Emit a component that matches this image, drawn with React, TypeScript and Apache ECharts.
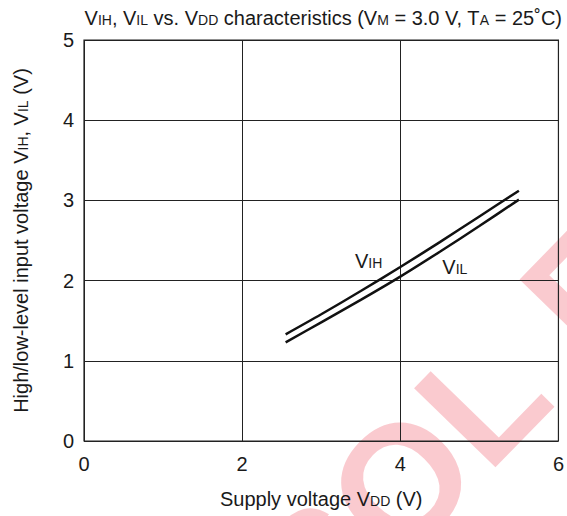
import React, { useEffect, useRef } from "react";
import * as echarts from "echarts";

const vihX = [2.55, 3.0, 3.5, 4.0, 4.5, 5.0, 5.5];
const vihY = [1.33, 1.58, 1.87, 2.17, 2.48, 2.8, 3.12];
const vilX = [2.55, 3.0, 3.5, 4.0, 4.5, 5.0, 5.5];
const vilY = [1.23, 1.48, 1.76, 2.05, 2.36, 2.68, 3.01];
const vihLabelPos = [3.6, 2.24];
const vilLabelPos = [4.69, 2.17];

// visible watermark letters and their offsets along the (rotated) baseline
const wmLetters = ["S", "O", "L", "E"];
const wmOffsets = [-209, -90, 26, 182];

const FONT = "'Liberation Sans', Arial, Helvetica, sans-serif";

export default function App() {
  const ref = useRef<HTMLDivElement>(null);
  useEffect(() => {
    if (!ref.current) return;
    const chart = echarts.init(ref.current, null, { renderer: "svg" });
    const sub = { fontSize: 14, fontFamily: FONT, fontWeight: "normal", color: "#1a1a1a", verticalAlign: "bottom", padding: [0, 0, 1, 0] };
    const main = { fontSize: 20, fontFamily: FONT, fontWeight: "normal", color: "#1a1a1a", verticalAlign: "bottom" };
    const label = (name: string, coord: number[]) => ({
      coord,
      symbolSize: 0,
      label: {
        show: true,
        position: "inside",
        formatter: `{m|V}{s|${name}}`,
        rich: { m: { ...main }, s: { ...sub } },
      },
    });
    const theta = 0.8;
    const ux = Math.cos(theta), uy = -Math.sin(theta);
    const wm = wmLetters.map((ch, i) => ({
      type: "text",
      x: 464 + ux * wmOffsets[i],
      y: 418 + uy * wmOffsets[i],
      rotation: theta,
      z: -10,
      silent: true,
      style: {
        text: ch,
        font: `bold 165px ${FONT}`,
        fill: "rgba(240,90,105,0.32)",
        textAlign: "center",
        textVerticalAlign: "middle",
      },
    }));
    chart.setOption({
      animation: false,
      textStyle: { fontFamily: FONT },
      title: {
        text: "{m|V}{s|IH}{m|, V}{s|IL}{m| vs. V}{s|DD}{m| characteristics (V}{s|M}{m| = 3.0 V, T}{s|A}{m| = 25˚C)}",
        right: 0,
        top: 3,
        textStyle: { fontWeight: "normal", rich: { m: main, s: sub } },
      },
      graphic: wm,
      grid: { left: 84, right: 6, top: 40, bottom: 75, show: true, borderColor: "#222", borderWidth: 1.2, backgroundColor: "transparent" },
      xAxis: {
        type: "value",
        min: 0,
        max: 6,
        interval: 2,
        name: "{m|Supply voltage V}{s|DD}{m| (V)}",
        nameLocation: "middle",
        nameGap: 48,
        nameTextStyle: { rich: { m: main, s: sub } },
        axisLine: { show: false },
        axisTick: { show: false },
        axisLabel: { fontSize: 20, color: "#1a1a1a", fontFamily: FONT, margin: 13 },
        splitLine: { show: true, lineStyle: { color: "#222", width: 1 } },
      },
      yAxis: {
        type: "value",
        min: 0,
        max: 5,
        interval: 1,
        name: "{m|High/low-level input voltage V}{s|IH}{m|, V}{s|IL}{m| (V)}",
        nameLocation: "middle",
        nameGap: 53,
        nameRotate: 90,
        nameTextStyle: { rich: { m: main, s: sub } },
        axisLine: { show: false },
        axisTick: { show: false },
        axisLabel: { fontSize: 20, color: "#1a1a1a", fontFamily: FONT, margin: 10 },
        splitLine: { show: true, lineStyle: { color: "#222", width: 1 } },
      },
      series: [
        {
          name: "VIH",
          type: "line",
          data: vihX.map((x, i) => [x, vihY[i]]),
          showSymbol: false,
          smooth: 0.3,
          lineStyle: { color: "#111", width: 2.5 },
          z: 5,
          markPoint: { symbol: "circle", data: [label("IH", vihLabelPos)] },
        },
        {
          name: "VIL",
          type: "line",
          data: vilX.map((x, i) => [x, vilY[i]]),
          showSymbol: false,
          smooth: 0.3,
          lineStyle: { color: "#111", width: 2.5 },
          z: 5,
          markPoint: { symbol: "circle", data: [label("IL", vilLabelPos)] },
        },
      ],
    });
    return () => chart.dispose();
  }, []);
  return <div ref={ref} style={{ width: 567, height: 516, position: "absolute", left: 0, top: 0 }} />;
}
